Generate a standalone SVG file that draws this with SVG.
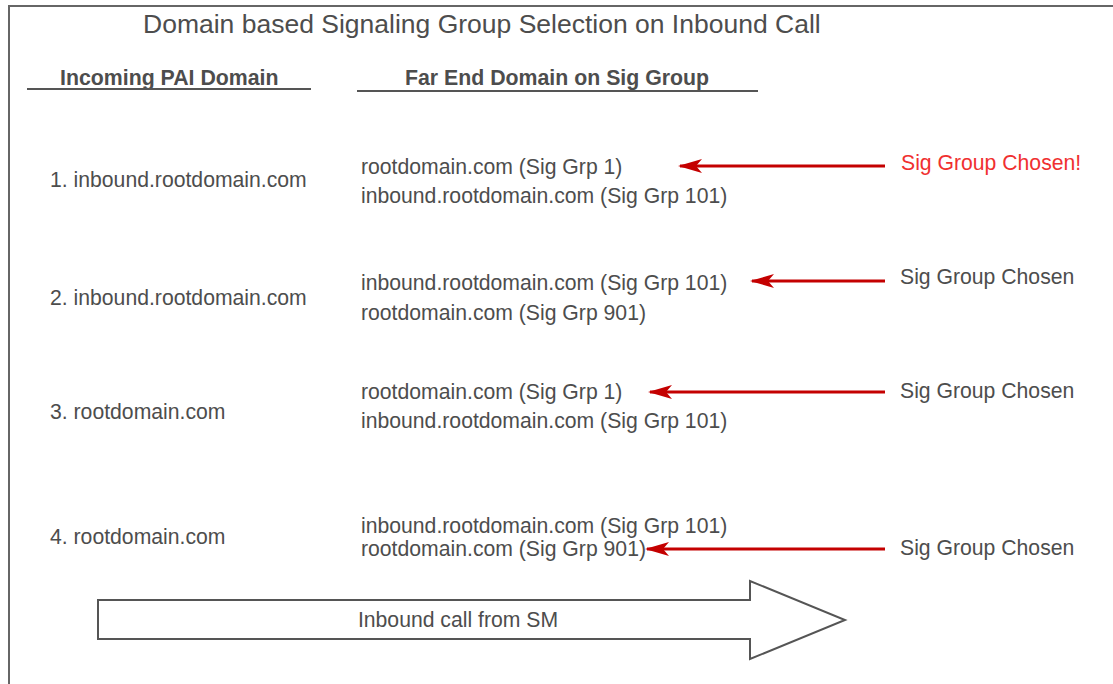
<svg xmlns="http://www.w3.org/2000/svg" width="1113" height="684" viewBox="0 0 1113 684">
<style>
text{font-family:"Liberation Sans",Arial,sans-serif;fill:#4d4d4d}
.t{font-size:26.5px}
.h{font-size:21.3px;font-weight:bold}
.r{font-size:21.2px}
.red{fill:#f03030}
.rule{stroke:#555;stroke-width:2}
.conn{stroke:#c40000;stroke-width:3;fill:none}
</style>
<defs>
<marker id="ah" viewBox="0 0 24 14" refX="22" refY="7" markerWidth="24" markerHeight="14" orient="auto" markerUnits="userSpaceOnUse">
<path d="M24,7 L0,0 L6,7 L0,14 Z" fill="#c40000"/>
</marker>
</defs>
<rect width="1113" height="684" fill="#fff"/>
<path d="M9,684 V6 H1113" fill="none" stroke="#666" stroke-width="2"/>
<text class="t" x="143" y="33">Domain based Signaling Group Selection on Inbound Call</text>
<g id="header-left"><text class="h" x="60" y="85">Incoming PAI Domain</text><line class="rule" x1="27" y1="89" x2="311" y2="89"/></g>
<g id="header-right"><text class="h" x="405" y="85">Far End Domain on Sig Group</text><line class="rule" x1="357" y1="91" x2="758" y2="91"/></g>
<g id="row1">
<text class="r" x="50" y="187">1. inbound.rootdomain.com</text>
<text class="r" x="361" y="174">rootdomain.com (Sig Grp 1)</text>
<text class="r" x="361" y="203">inbound.rootdomain.com (Sig Grp 101)</text>
<text class="r red" x="901" y="170">Sig Group Chosen!</text>
</g>
<g id="row2">
<text class="r" x="50" y="305">2. inbound.rootdomain.com</text>
<text class="r" x="361" y="290">inbound.rootdomain.com (Sig Grp 101)</text>
<text class="r" x="361" y="320">rootdomain.com (Sig Grp 901)</text>
<text class="r" x="900" y="284">Sig Group Chosen</text>
</g>
<g id="row3">
<text class="r" x="50" y="419">3. rootdomain.com</text>
<text class="r" x="361" y="399">rootdomain.com (Sig Grp 1)</text>
<text class="r" x="361" y="428">inbound.rootdomain.com (Sig Grp 101)</text>
<text class="r" x="900" y="398">Sig Group Chosen</text>
</g>
<g id="row4">
<text class="r" x="50" y="544">4. rootdomain.com</text>
<text class="r" x="361" y="533">inbound.rootdomain.com (Sig Grp 101)</text>
<text class="r" x="361" y="556">rootdomain.com (Sig Grp 901)</text>
<text class="r" x="900" y="555">Sig Group Chosen</text>
</g>
<g id="connectors">
<line class="conn" x1="885" y1="166" x2="680" y2="166" marker-end="url(#ah)"/>
<line class="conn" x1="885" y1="281" x2="752" y2="281" marker-end="url(#ah)"/>
<line class="conn" x1="885" y1="392" x2="650" y2="392" marker-end="url(#ah)"/>
<line class="conn" x1="885" y1="549" x2="647" y2="549" marker-end="url(#ah)"/>
</g>
<g id="inbound-arrow">
<path d="M98,600 H750 V581 L845,620 L750,659 V639 H98 Z" fill="#fff" stroke="#555" stroke-width="2"/>
<text class="r" x="458" y="627" text-anchor="middle">Inbound call from SM</text>
</g>
</svg>
